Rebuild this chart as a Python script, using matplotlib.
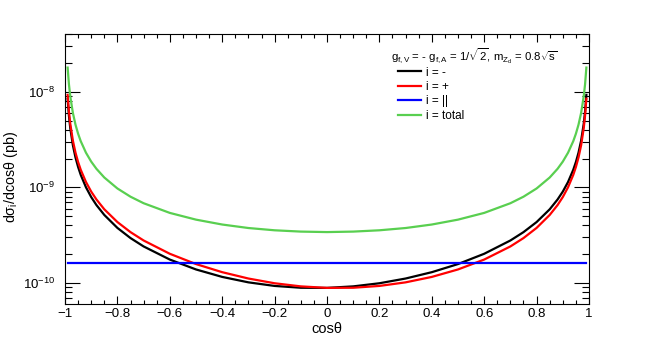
import numpy as np
import matplotlib
matplotlib.use("Agg")
import matplotlib.pyplot as plt
from matplotlib.ticker import LogLocator, NullFormatter, FixedLocator

plt.rcParams['font.family'] = ['Liberation Sans', 'DejaVu Sans']
plt.rcParams['mathtext.fontset'] = 'custom'
plt.rcParams['mathtext.rm'] = 'Liberation Sans'
plt.rcParams['mathtext.it'] = 'Liberation Sans'

# cos(theta) sample points
cos_theta = [-0.99, -0.985, -0.98, -0.97, -0.96, -0.95, -0.94, -0.92, -0.9, -0.88,
             -0.85, -0.8, -0.75, -0.7, -0.6, -0.5, -0.4, -0.3, -0.2, -0.1, 0.0,
             0.1, 0.2, 0.3, 0.4, 0.5, 0.6, 0.7, 0.75, 0.8, 0.85, 0.88, 0.9, 0.92,
             0.94, 0.95, 0.96, 0.97, 0.98, 0.985, 0.99]

# d sigma / d cos(theta), in units of 1e-10 pb
sig_minus = [84.4, 56.0, 41.78, 27.62, 20.56, 16.34, 13.52, 10.02, 7.92, 6.53,
             5.15, 3.77, 2.952, 2.414, 1.760, 1.387, 1.159, 1.017, 0.933, 0.893, 0.89,
             0.923, 0.995, 1.115, 1.299, 1.579, 2.023, 2.786, 3.406, 4.34, 5.90, 7.47,
             9.03, 11.38, 15.28, 18.40, 23.06, 30.84, 46.35, 61.8, 92.7]
sig_plus = [92.7, 61.8, 46.35, 30.84, 23.06, 18.40, 15.28, 11.38, 9.03, 7.47,
            5.90, 4.34, 3.406, 2.786, 2.023, 1.579, 1.299, 1.115, 0.995, 0.923, 0.89,
            0.893, 0.933, 1.017, 1.159, 1.387, 1.760, 2.414, 2.952, 3.77, 5.15, 6.53,
            7.92, 10.02, 13.52, 16.34, 20.56, 27.62, 41.78, 56.0, 84.4]
sig_par = [1.63] * len(cos_theta)
sig_total = [178.7, 119.4, 89.75, 60.09, 45.25, 36.37, 30.43, 23.03, 18.59, 15.63,
             12.68, 9.74, 7.99, 6.83, 5.41, 4.60, 4.09, 3.76, 3.56, 3.45, 3.41,
             3.45, 3.56, 3.76, 4.09, 4.60, 5.41, 6.83, 7.99, 9.74, 12.68, 15.63,
             18.59, 23.03, 30.43, 36.37, 45.25, 60.09, 89.75, 119.4, 178.7]
unit = 1e-10

series = [
    (sig_minus, 'black', 'i = -'),
    (sig_plus, '#ff0000', 'i = +'),
    (sig_par, '#0000ff', 'i = ||'),
    (sig_total, '#59cf50', 'i = total'),
]

x_ticks = [-1, -0.8, -0.6, -0.4, -0.2, 0, 0.2, 0.4, 0.6, 0.8, 1]
x_tick_labels = ['\u22121', '\u22120.8', '\u22120.6', '\u22120.4', '\u22120.2', '0',
                 '0.2', '0.4', '0.6', '0.8', '1']

fig = plt.figure(figsize=(6.54, 3.38), dpi=100)
ax = fig.add_axes([0.0994, 0.1006, 0.8012, 0.7988])

x = np.array(cos_theta)
for vals, col, lab in series:
    ax.plot(x, np.array(vals) * unit, color=col, lw=1.6, label=lab)

ax.set_yscale('log')
ax.set_xlim(-1, 1)
ax.set_ylim(6.04e-11, 4.01e-8)

ax.set_xticks(x_ticks, x_tick_labels)
ax.xaxis.set_minor_locator(FixedLocator(np.arange(-1, 1.001, 0.05)))
ax.yaxis.set_major_locator(LogLocator(base=10, numticks=10))
ax.yaxis.set_minor_locator(LogLocator(base=10, subs=np.arange(2, 10), numticks=20))
ax.yaxis.set_minor_formatter(NullFormatter())

ax.tick_params(which='both', direction='in', top=True, right=True, width=0.8,
               labelsize=9.5, colors='black')
ax.tick_params(axis='x', which='major', length=6, pad=3)
ax.tick_params(axis='x', which='minor', length=3)
ax.tick_params(axis='y', which='major', length=10.5, pad=7)
ax.tick_params(axis='y', which='minor', length=5.2)
for s in ax.spines.values():
    s.set_linewidth(0.8)

ax.set_xlabel('cos\u03b8', fontsize=10.5, labelpad=1)
ax.set_ylabel('d\u03c3$_{\\mathregular{i}}$/dcos\u03b8 (pb)', fontsize=10.3)
ax.yaxis.set_label_coords(-0.086, 0.47)

fig.text(0.598, 0.8195, r'$\mathregular{g_{f,V}}$ = - $\mathregular{g_{f,A}}$ = 1/$\mathregular{\sqrt{2}}$, '
         r'$\mathregular{m_{Z_{d}}}$ = 0.8$\mathregular{\sqrt{s}}$', fontsize=8.2, va='baseline')

ax.legend(loc='upper left', bbox_to_anchor=(0.6046, 0.81), bbox_transform=fig.transFigure,
          frameon=False, fontsize=8.5, handlelength=2.0, handletextpad=0.4,
          labelspacing=0.2, borderpad=0.2, borderaxespad=0)

fig.savefig('out.png', dpi=100)
